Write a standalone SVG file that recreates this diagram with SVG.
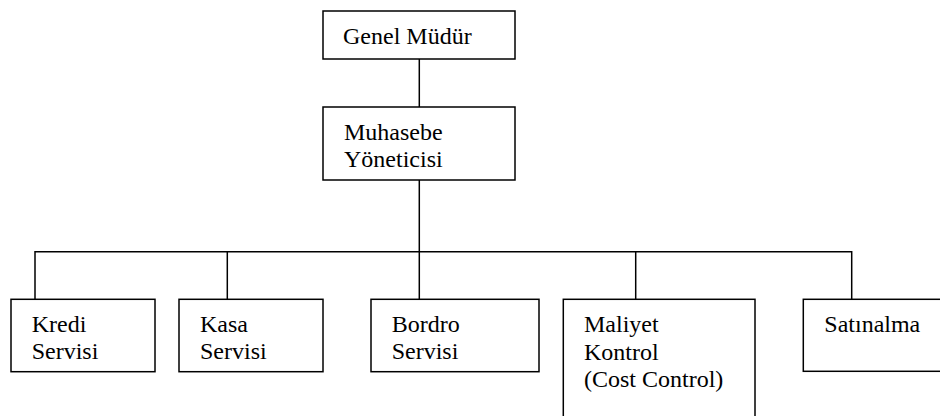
<svg xmlns="http://www.w3.org/2000/svg" width="940" height="416" viewBox="0 0 940 416">
<style>
.box{fill:#fff;stroke:#000;stroke-width:1.5}
.con{fill:none;stroke:#000;stroke-width:1.5}
text{font-family:"Liberation Serif","Times New Roman",serif;font-size:24px;fill:#000}
</style>
<rect width="940" height="416" fill="#fff"/>
<g id="connectors">
<line class="con" x1="419.3" y1="59" x2="419.3" y2="107"/>
<line class="con" x1="419.3" y1="180" x2="419.3" y2="299.3"/>
<polyline class="con" points="35,299.3 35,251.7 851.7,251.7 851.7,299.3"/>
<line class="con" x1="227.3" y1="251.7" x2="227.3" y2="299.3"/>
<line class="con" x1="635.7" y1="251.7" x2="635.7" y2="299.3"/>
</g>
<g id="genel-mudur">
<rect class="box" x="323" y="11" width="192" height="48"/>
<text x="343" y="44">Genel Müdür</text>
</g>
<g id="muhasebe-yoneticisi">
<rect class="box" x="323" y="107" width="192" height="73"/>
<text x="344" y="140">Muhasebe</text>
<text x="344" y="167">Yöneticisi</text>
</g>
<g id="kredi-servisi">
<rect class="box" x="11" y="299.3" width="144" height="72.4"/>
<text x="31.7" y="331.7">Kredi</text>
<text x="31.7" y="359.3">Servisi</text>
</g>
<g id="kasa-servisi">
<rect class="box" x="179" y="299.3" width="144" height="72.4"/>
<text x="200" y="331.7">Kasa</text>
<text x="200" y="359.3">Servisi</text>
</g>
<g id="bordro-servisi">
<rect class="box" x="371" y="299.3" width="168" height="72.4"/>
<text x="391.7" y="331.7">Bordro</text>
<text x="391.7" y="359.3">Servisi</text>
</g>
<g id="maliyet-kontrol">
<rect class="box" x="563.3" y="299.3" width="191.7" height="140"/>
<text x="584" y="332.3">Maliyet</text>
<text x="584" y="360">Kontrol</text>
<text x="584" y="386.7">(Cost Control)</text>
</g>
<g id="satinalma">
<rect class="box" x="803.3" y="299.3" width="200" height="72"/>
<text x="824.3" y="331.7">Satınalma</text>
</g>
</svg>
